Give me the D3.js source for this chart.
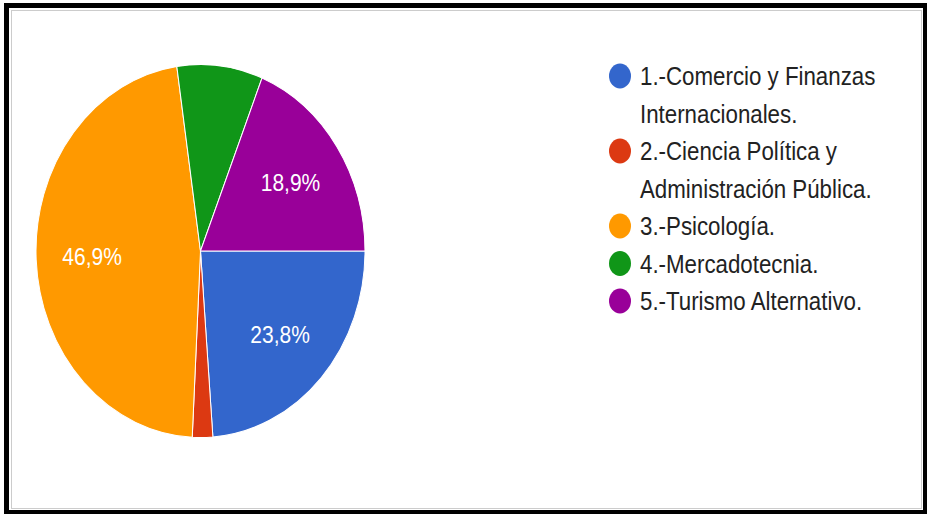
<!DOCTYPE html>
<html>
<head>
<meta charset="utf-8">
<script src="https://cdn.jsdelivr.net/npm/d3@7"></script>
<style>
  html, body { margin: 0; padding: 0; background: #fff; }
  svg { display: block; font-family: Arial, "Liberation Sans", sans-serif; }
</style>
</head>
<body>
<svg id="chart" width="927" height="514"></svg>
<script>
// data
const categories = ["1.-Comercio y Finanzas Internacionales.", "2.-Ciencia Política y Administración Pública.", "3.-Psicología.", "4.-Mercadotecnia.", "5.-Turismo Alternativo."];
const legendLines = [["1.-Comercio y Finanzas", "Internacionales."], ["2.-Ciencia Política y", "Administración Pública."], ["3.-Psicología."], ["4.-Mercadotecnia."], ["5.-Turismo Alternativo."]];
const values = [23.8, 2.0, 46.9, 8.4, 18.9];
const sliceLabels = ["23,8%", "", "46,9%", "", "18,9%"];
const colors = ["#3366cc", "#dc3912", "#ff9900", "#109618", "#990099"];

const svg = d3.select("#chart");
const W = 927, H = 514;

// the picture is stretched a bit in y
const sy = 1.134;
const cx = 200.5, cy = 251, r = 164.5;

// frame
svg.append("rect")
  .attr("x", 6.5).attr("y", 5.5)
  .attr("width", W - 6.5 - 1.5).attr("height", H - 5.5 - 1.5)
  .attr("fill", "none").attr("stroke", "#000").attr("stroke-width", 5);
svg.append("rect")
  .attr("x", 11.5).attr("y", 10.5)
  .attr("width", W - 11.5 - 5.5).attr("height", H - 10.5 - 5.5)
  .attr("fill", "none").attr("stroke", "#ccc").attr("stroke-width", 1);

const pie = d3.pie().sort(null).value(d => d)
  .startAngle(Math.PI / 2).endAngle(Math.PI / 2 + 2 * Math.PI);
const arcs = pie(values);
const arc = d3.arc().innerRadius(0).outerRadius(r);
const labelArc = d3.arc().innerRadius(r * 0.66).outerRadius(r * 0.66);

const g = svg.append("g")
  .attr("transform", `translate(${cx},${cy}) scale(1,${sy})`);

g.selectAll("path.slice")
  .data(arcs)
  .join("path")
  .attr("class", "slice")
  .attr("d", arc)
  .attr("fill", (d, i) => colors[i])
  .attr("stroke", "#fff")
  .attr("stroke-width", 1);

g.selectAll("text.lbl")
  .data(arcs)
  .join("text")
  .attr("class", "lbl")
  .attr("transform", d => `translate(${labelArc.centroid(d)})`)
  .attr("text-anchor", "middle")
  .attr("dy", "0.36em")
  .attr("fill", "#fff")
  .attr("font-size", 21)
  .text((d, i) => sliceLabels[i]);

// legend
const lineH = 37.5;
const legX = 620, legY = 76;
let row = 0;
const leg = svg.append("g");
legendLines.forEach((lines, i) => {
  const y0 = legY + row * lineH;
  leg.append("ellipse")
    .attr("cx", legX).attr("cy", y0)
    .attr("rx", 11).attr("ry", 11 * sy)
    .attr("fill", colors[i]);
  lines.forEach((t, k) => {
    leg.append("text")
      .attr("transform", `translate(${legX + 20},${y0 + k * lineH}) scale(1,${sy})`)
      .attr("dy", "0.36em")
      .attr("fill", "#222")
      .attr("font-size", 22.3)
      .text(t);
  });
  row += lines.length;
});
</script>
</body>
</html>
